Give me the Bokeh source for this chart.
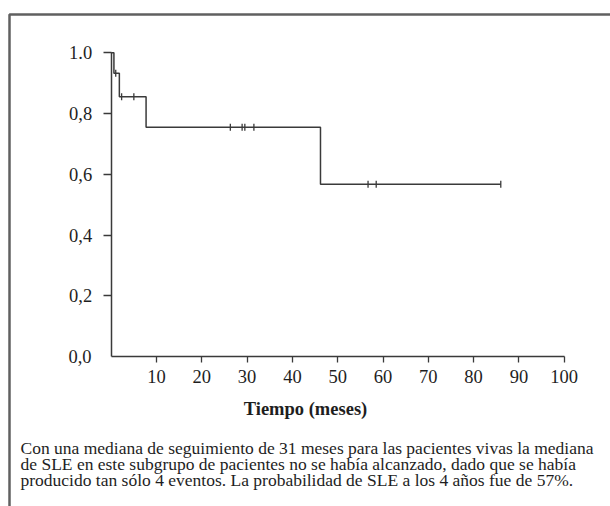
import numpy as np
from bokeh.plotting import figure
from bokeh.models import Range1d, FixedTicker, Label, BoxAnnotation, LinearAxis
from bokeh.embed import file_html
from bokeh.resources import INLINE

# --- data ---
step_times = [0, 0.6, 1.8, 7.7, 46.2, 86.0]
step_surv = [1.0, 0.933, 0.855, 0.755, 0.567, 0.567]
censor_times = [1.0, 2.3, 5.0, 26.3, 28.9, 29.5, 31.5, 56.7, 58.5, 86.0]
censor_surv = [0.933, 0.855, 0.855, 0.755, 0.755, 0.755, 0.755, 0.567, 0.567, 0.567]
x_ticks = [10, 20, 30, 40, 50, 60, 70, 80, 90, 100]
y_ticks = [0.2, 0.4, 0.6, 0.8, 1.0]
y_tick_labels = {0.2: "0,2", 0.4: "0,4", 0.6: "0,6", 0.8: "0,8", 1.0: "1.0"}
x_label = "Tiempo (meses)"
caption = [
    "Con una mediana de seguimiento de 31 meses para las pacientes vivas la mediana",
    "de SLE en este subgrupo de pacientes no se había alcanzado, dado que se había",
    "producido tan sólo 4 eventos. La probabilidad de SLE a los 4 años fue de 57%.",
]

FONT = "Liberation Serif"
INK = "#3a3a3a"
TXT = "#1e1e1e"
W, H = 610, 506
# pixel layout of the plotting area inside the page
X0PX, X100PX = 110.7, 563.7
Y0PX, Y1PX = 356.0, 52.3
sx = (X100PX - X0PX) / 100.0
sy = (Y0PX - Y1PX) / 1.0

p = figure(width=W, height=H, output_backend="svg", toolbar_location=None,
           x_range=Range1d(-X0PX / sx, (W - X0PX) / sx),
           y_range=Range1d(-(H - Y0PX) / sy, Y0PX / sy),
           x_axis_location=None, y_axis_location=None,
           min_border=0)
p.outline_line_color = None
p.xgrid.visible = False
p.ygrid.visible = False
p.background_fill_color = "white"
p.border_fill_color = "white"

xaxis = LinearAxis(fixed_location=0, bounds=(0, 100), ticker=FixedTicker(ticks=x_ticks))
yaxis = LinearAxis(fixed_location=0, bounds=(0, 1), ticker=FixedTicker(ticks=y_ticks))
for ax in (xaxis, yaxis):
    ax.axis_line_color = INK
    ax.axis_line_width = 1.5
    ax.major_tick_line_color = INK
    ax.major_tick_line_width = 1.3
    ax.minor_tick_line_color = None
    ax.major_tick_in = 0
    ax.major_label_text_font = FONT
    ax.major_label_text_font_size = "18.5px"
    ax.major_label_text_color = TXT
xaxis.major_tick_out = 6
xaxis.major_label_standoff = 7
yaxis.major_label_overrides = y_tick_labels
yaxis.major_tick_out = 8
yaxis.major_label_standoff = 11
p.add_layout(xaxis, "below")
p.add_layout(yaxis, "left")

p.step(step_times, step_surv, mode="after", line_color=INK, line_width=1.5)
p.scatter(censor_times, censor_surv, marker="dash", angle=np.pi / 2, size=7,
          line_color=INK, line_width=1.3)

def lab(px, py, text, align="left", size="18.5px", style="normal"):
    p.add_layout(Label(x=px, y=H - py, x_units="screen", y_units="screen", text=text,
                       text_align=align, text_baseline="middle",
                       text_font=FONT, text_font_size=size, text_font_style=style,
                       text_color=TXT))

lab(91, 356, "0,0", align="right")
lab(305, 408, x_label, align="center", size="18.5px", style="bold")
for i, line in enumerate(caption):
    lab(20, 447 + 16 * i, line, size="17.5px")

p.add_layout(BoxAnnotation(left=9, right=W + 50, top=H - 14, bottom=-50,
                           left_units="screen", right_units="screen",
                           top_units="screen", bottom_units="screen",
                           fill_alpha=0, line_color="#606060", line_alpha=1.0,
                           line_width=2.5))

open("out.html", "w").write(file_html(p, INLINE))
